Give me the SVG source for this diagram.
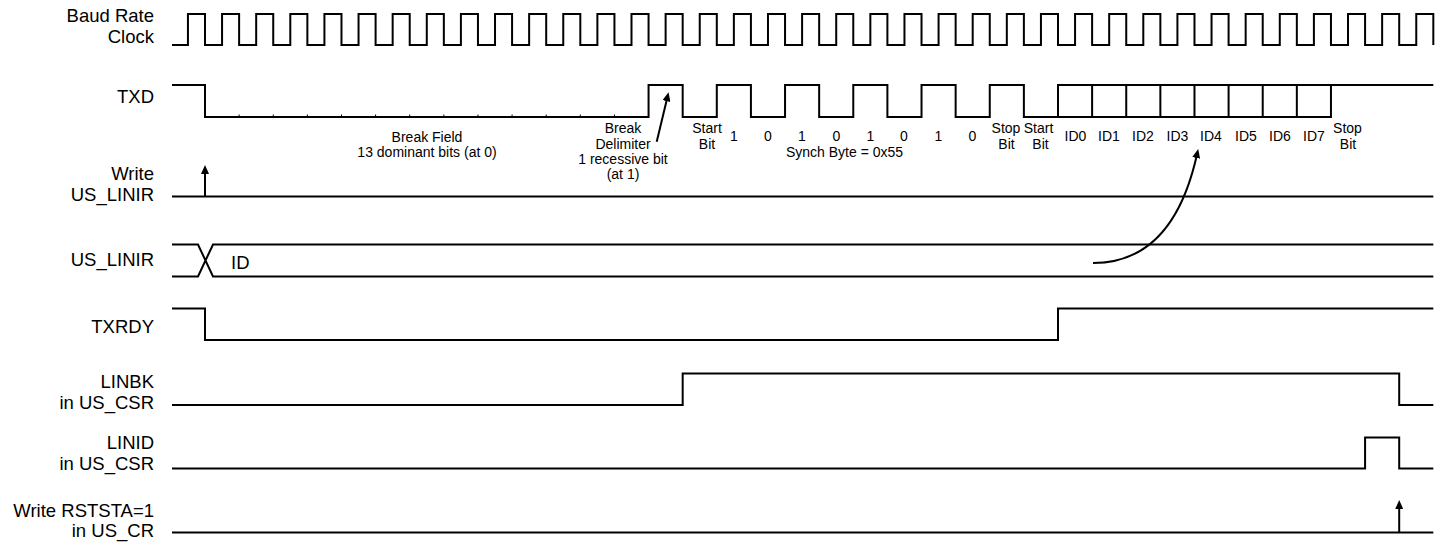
<svg xmlns="http://www.w3.org/2000/svg" width="1445" height="542" viewBox="0 0 1445 542">
<style>
.sig{fill:none;stroke:#000;stroke-width:2;stroke-linejoin:miter}
.tick{fill:none;stroke:#000;stroke-width:1}
.arr{fill:none;stroke:#000;stroke-width:2}
.lbl{font-family:"Liberation Sans",Arial,sans-serif;font-size:18.5px;fill:#000;text-anchor:end}
.sm{font-family:"Liberation Sans",Arial,sans-serif;font-size:14px;fill:#000;text-anchor:middle}
.bus{font-family:"Liberation Sans",Arial,sans-serif;font-size:18.5px;fill:#000}
</style>
<defs>
<marker id="ah" markerUnits="userSpaceOnUse" markerWidth="9" markerHeight="8" refX="4" refY="4" orient="auto">
<path d="M0,0 L9,4 L0,8 z" fill="#000"/>
</marker>
</defs>
<rect width="1445" height="542" fill="#fff"/>

<g id="clock">
<text class="lbl" x="154" y="22">Baud Rate</text>
<text class="lbl" x="154" y="43">Clock</text>
<path class="sig" d="M172,45 H187.94 V14 h17.06 V45 h17.06 V14 h17.06 V45 h17.06 V14 h17.06 V45 h17.06 V14 h17.06 V45 h17.06 V14 h17.06 V45 h17.06 V14 h17.06 V45 h17.06 V14 h17.06 V45 h17.06 V14 h17.06 V45 h17.06 V14 h17.06 V45 h17.06 V14 h17.06 V45 h17.06 V14 h17.06 V45 h17.06 V14 h17.06 V45 h17.06 V14 h17.06 V45 h17.06 V14 h17.06 V45 h17.06 V14 h17.06 V45 h17.06 V14 h17.06 V45 h17.06 V14 h17.06 V45 h17.06 V14 h17.06 V45 h17.06 V14 h17.06 V45 h17.06 V14 h17.06 V45 h17.06 V14 h17.06 V45 h17.06 V14 h17.06 V45 h17.06 V14 h17.06 V45 h17.06 V14 h17.06 V45 h17.06 V14 h17.06 V45 h17.06 V14 h17.06 V45 h17.06 V14 h17.06 V45 h17.06 V14 h17.06 V45 h17.06 V14 h17.06 V45 h17.06 V14 h17.06 V45 h17.06 V14 h17.06 V45 h17.06 V14 h17.06 V45 h17.06 V14 h17.06 V45 h17.06 V14 h17.06 V45 h17.06 V14 h17.06 V45 h17.06 V14 h17.06 V45 h17.06 V14 h17.06 V45"/>
</g>

<g id="txd">
<text class="lbl" x="154" y="103">TXD</text>
<path class="sig" d="M172,85 H205 V117 H648.56 V85 H682.68 V117 H716.8 V85 H750.92 V117 H785.04 V85 H819.16 V117 H853.28 V85 H887.4 V117 H921.52 V85 H955.64 V117 H989.76 V85 H1023.88 V117 H1058 V85 H1433.3"/>
<path class="sig" d="M1058,117 H1330.96 V85 M1092.12,85 V117 M1126.24,85 V117 M1160.36,85 V117 M1194.48,85 V117 M1228.6,85 V117 M1262.72,85 V117 M1296.84,85 V117"/>
<path class="tick" d="M239.12,114.5 V116 M273.24,114.5 V116 M307.36,114.5 V116 M341.48,114.5 V116 M375.6,114.5 V116 M409.72,114.5 V116 M443.84,114.5 V116 M477.96,114.5 V116 M512.08,114.5 V116 M546.2,114.5 V116 M580.32,114.5 V116 M614.44,114.5 V116"/>
<text class="sm" x="427" y="141.5">Break Field</text>
<text class="sm" x="427" y="157">13 dominant bits (at 0)</text>
<text class="sm" x="623" y="133">Break</text>
<text class="sm" x="623" y="148.5">Delimiter</text>
<text class="sm" x="623" y="164">1 recessive bit</text>
<text class="sm" x="623" y="179">(at 1)</text>
<text class="sm" x="707" y="132.5">Start</text>
<text class="sm" x="707" y="148.5">Bit</text>
<text class="sm" x="734" y="141">1</text>
<text class="sm" x="768" y="141">0</text>
<text class="sm" x="802" y="141">1</text>
<text class="sm" x="836.5" y="141">0</text>
<text class="sm" x="870.5" y="141">1</text>
<text class="sm" x="904" y="141">0</text>
<text class="sm" x="938.5" y="141">1</text>
<text class="sm" x="972.5" y="141">0</text>
<text class="sm" x="844.5" y="157">Synch Byte = 0x55</text>
<text class="sm" x="1006" y="132.5">Stop</text>
<text class="sm" x="1006.5" y="148.5">Bit</text>
<text class="sm" x="1038.5" y="132.5">Start</text>
<text class="sm" x="1040.5" y="148.5">Bit</text>
<text class="sm" x="1075.5" y="141">ID0</text>
<text class="sm" x="1109" y="141">ID1</text>
<text class="sm" x="1143" y="141">ID2</text>
<text class="sm" x="1177.5" y="141">ID3</text>
<text class="sm" x="1211" y="141">ID4</text>
<text class="sm" x="1246" y="141">ID5</text>
<text class="sm" x="1280" y="141">ID6</text>
<text class="sm" x="1314" y="141">ID7</text>
<text class="sm" x="1347.5" y="132.5">Stop</text>
<text class="sm" x="1348" y="148.5">Bit</text>
</g>

<g id="write-us-linir">
<text class="lbl" x="154" y="180">Write</text>
<text class="lbl" x="154" y="201">US_LINIR</text>
<path class="sig" d="M172,196.5 H1433.3"/>
</g>

<g id="us-linir">
<text class="lbl" x="154" y="266">US_LINIR</text>
<path class="sig" d="M172,244.5 H198 L213,276.5 H1433.3 M172,276.5 H198 L213,244.5 H1433.3"/>
<text class="bus" x="231" y="268.5">ID</text>
</g>

<g id="txrdy">
<text class="lbl" x="154" y="332.5">TXRDY</text>
<path class="sig" d="M172,308.5 H205 V340 H1058 V308.5 H1433.3"/>
</g>

<g id="linbk">
<text class="lbl" x="154" y="388">LINBK</text>
<text class="lbl" x="154" y="408.5">in US_CSR</text>
<path class="sig" d="M172,405 H682.68 V373.5 H1399.2 V405 H1433.3"/>
</g>

<g id="linid">
<text class="lbl" x="154" y="448.5">LINID</text>
<text class="lbl" x="154" y="470">in US_CSR</text>
<path class="sig" d="M172,468.5 H1365.08 V437.5 H1399.2 V468.5 H1433.3"/>
</g>

<g id="write-rststa">
<text class="lbl" x="154" y="517">Write RSTSTA=1</text>
<text class="lbl" x="154" y="537">in US_CR</text>
<path class="sig" d="M172,532.5 H1433.3"/>
</g>

<g id="connectors">
<path class="arr" d="M205,196.5 V170" marker-end="url(#ah)"/>
<path class="arr" d="M1399.2,532.5 V505" marker-end="url(#ah)"/>
<path class="arr" d="M656.7,141.7 L667.4,97.2" marker-end="url(#ah)"/>
<path class="arr" d="M1093,263 Q1173,263 1197.1,154" marker-end="url(#ah)"/>
</g>
</svg>
